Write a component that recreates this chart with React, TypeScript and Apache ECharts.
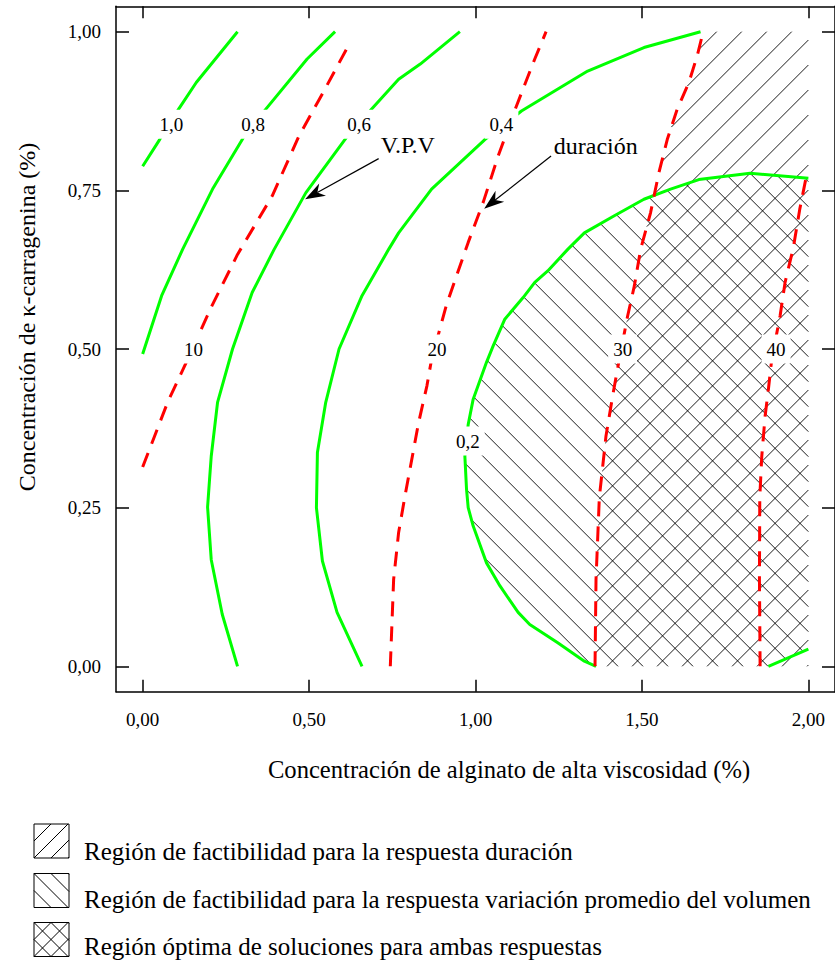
import React, { useEffect, useRef } from 'react';
import * as echarts from 'echarts';

const FONT = '"Liberation Serif", "Times New Roman", Times, serif';

// ---------- axes ----------
const xMin = -0.08, xMax = 2.08, yMin = -0.04, yMax = 1.04;
const xTickValues = [0, 0.5, 1, 1.5, 2];
const xTickLabels = ['0,00', '0,50', '1,00', '1,50', '2,00'];
const yTickValues = [0, 0.25, 0.5, 0.75, 1];
const yTickLabels = ['0,00', '0,25', '0,50', '0,75', '1,00'];
const xAxisTitle = 'Concentración de alginato de alta viscosidad (%)';
const yAxisTitle = 'Concentración de κ-carragenina (%)';

// ---------- V.P.V contours (green, solid) ----------
const vpv10 = [[0.000, 0.788], [0.051, 0.830], [0.108, 0.878], [0.161, 0.920], [0.285, 1.000]];
const vpv08 = [[0.000, 0.492], [0.057, 0.584], [0.120, 0.657], [0.210, 0.752], [0.306, 0.836], [0.370, 0.878], [0.494, 0.957], [0.578, 1.000]];
const vpv06 = [[0.285, 0.000], [0.239, 0.082], [0.206, 0.168], [0.195, 0.251], [0.201, 0.295], [0.206, 0.331], [0.225, 0.416], [0.270, 0.500], [0.329, 0.589], [0.395, 0.657], [0.490, 0.746], [0.613, 0.834], [0.688, 0.878], [0.769, 0.925], [0.834, 0.949], [0.953, 1.000]];
const vpv04 = [[0.659, 0.000], [0.584, 0.085], [0.540, 0.166], [0.522, 0.250], [0.525, 0.337], [0.550, 0.416], [0.590, 0.500], [0.659, 0.584], [0.739, 0.657], [0.769, 0.683], [0.868, 0.752], [1.028, 0.830], [1.138, 0.875], [1.337, 0.938], [1.506, 0.975], [1.676, 1.000]];
const vpv02 = [[1.362, 0.000], [1.327, 0.008], [1.247, 0.037], [1.163, 0.066], [1.128, 0.085], [1.073, 0.127], [1.033, 0.163], [0.993, 0.221], [0.978, 0.250], [0.973, 0.279], [0.968, 0.331], [0.978, 0.381], [0.993, 0.421], [1.033, 0.479], [1.053, 0.505], [1.088, 0.547], [1.143, 0.581], [1.178, 0.605], [1.217, 0.623], [1.277, 0.657], [1.327, 0.683], [1.417, 0.710], [1.506, 0.736], [1.586, 0.752], [1.671, 0.767], [1.825, 0.777], [2.000, 0.769]];
const vpv02b = [[1.880, 0.000], [2.000, 0.027]];

// ---------- duración contours (red, dashed) ----------
const dur10 = [[0.000, 0.314], [0.075, 0.416], [0.131, 0.479], [0.206, 0.566], [0.285, 0.649], [0.389, 0.741], [0.470, 0.836], [0.545, 0.907], [0.619, 0.979]];
const dur20 = [[0.744, 0.000], [0.754, 0.137], [0.769, 0.211], [0.789, 0.271], [0.829, 0.384], [0.854, 0.442], [0.868, 0.484], [0.913, 0.570], [0.978, 0.668], [1.023, 0.731], [1.068, 0.804], [1.123, 0.883], [1.178, 0.957], [1.212, 1.000]];
const dur30 = [[1.359, 0.000], [1.362, 0.137], [1.372, 0.266], [1.392, 0.363], [1.412, 0.426], [1.432, 0.484], [1.457, 0.552], [1.477, 0.599], [1.496, 0.657], [1.526, 0.715], [1.551, 0.778], [1.576, 0.830], [1.606, 0.878], [1.641, 0.920], [1.666, 0.962], [1.684, 1.000]];
const dur40 = [[1.855, 0.000], [1.853, 0.137], [1.854, 0.266], [1.860, 0.331], [1.870, 0.394], [1.880, 0.437], [1.890, 0.484], [1.915, 0.552], [1.930, 0.605], [1.955, 0.660], [1.974, 0.720], [1.995, 0.775]];

// ---------- feasible regions ----------
const durRegion = [...dur30, [2.0, 1.0], [2.0, 0.0]];
const vpvRegion = [...vpv02, [2.0, 0.027], [1.880, 0.0]];

// ---------- contour labels ----------
const contourLabelTexts = ['1,0', '0,8', '0,6', '0,4', '0,2', '10', '20', '30', '40'];
const contourLabelPos = [[0.086, 0.854], [0.332, 0.854], [0.650, 0.854], [1.078, 0.854], [0.977, 0.355], [0.153, 0.500], [0.884, 0.500], [1.442, 0.500], [1.903, 0.500]];

// ---------- annotations ----------
const annotationTexts = ['V.P.V', 'duración'];
const annotationTextPos = [[0.715, 0.821], [1.235, 0.820]];
const annotationArrowFrom = [[0.709, 0.800], [1.227, 0.804]];
const annotationArrowTo = [[0.488, 0.736], [1.026, 0.721]];

// ---------- legend ----------
const legendLabels = [
  'Región de factibilidad para la respuesta duración',
  'Región de factibilidad para la respuesta variación promedio del volumen',
  'Región óptima de soluciones para ambas respuestas',
];

// hatch segments of lines x + s*y = c clipped to polygon (pixel space)
function hatchSegments(pts: number[][], s: number, spacing: number, phase: number) {
  const f = (p: number[]) => p[0] + s * p[1];
  let lo = Infinity, hi = -Infinity;
  pts.forEach((p) => { const v = f(p); lo = Math.min(lo, v); hi = Math.max(hi, v); });
  const segs: number[][] = [];
  const k0 = Math.ceil((lo - phase) / spacing);
  for (let c = phase + k0 * spacing; c <= hi; c += spacing) {
    const xs: number[][] = [];
    for (let i = 0; i < pts.length; i++) {
      const a = pts[i], b = pts[(i + 1) % pts.length];
      const fa = f(a) - c, fb = f(b) - c;
      if ((fa > 0) !== (fb > 0)) {
        const t = fa / (fa - fb);
        xs.push([a[0] + t * (b[0] - a[0]), a[1] + t * (b[1] - a[1])]);
      }
    }
    xs.sort((p, q) => p[0] - q[0]);
    for (let j = 0; j + 1 < xs.length; j += 2) segs.push([xs[j][0], xs[j][1], xs[j + 1][0], xs[j + 1][1]]);
  }
  return segs;
}

function hatchSeries(region: number[][], s: number, phase: number) {
  return {
    type: 'custom',
    coordinateSystem: 'cartesian2d',
    silent: true,
    z: 1,
    data: [[0, 0]],
    renderItem: (params: any, api: any) => {
      const pts = region.map((p) => api.coord(p));
      const segs = hatchSegments(pts, s, 25, phase);
      return {
        type: 'group',
        children: segs.map((g) => ({
          type: 'line',
          shape: { x1: g[0], y1: g[1], x2: g[2], y2: g[3] },
          style: { stroke: '#000', lineWidth: 0.9 },
        })),
      };
    },
  };
}

const fmt = (vals: number[], labs: string[]) => (v: number) => {
  const i = vals.findIndex((t) => Math.abs(t - v) < 1e-9);
  return i >= 0 ? labs[i] : '';
};

export default function App() {
  const ref = useRef<HTMLDivElement>(null);
  useEffect(() => {
    if (!ref.current) return;
    const chart = echarts.init(ref.current, null, { renderer: 'svg' });

    const axisLine = { show: true, onZero: false, lineStyle: { color: '#000', width: 1.5 } };
    const xTick = { show: true, inside: true, length: 12, customValues: xTickValues, lineStyle: { color: '#000', width: 1.5 } };
    const yTick = { show: true, inside: true, length: 13, customValues: yTickValues, lineStyle: { color: '#000', width: 1.5 } };

    const green = (data: number[][]) => ({
      type: 'line', data, showSymbol: false, symbol: 'none', silent: true, z: 3,
      lineStyle: { color: '#00ff00', width: 3 },
    });
    const red = (data: number[][]) => ({
      type: 'line', data, showSymbol: false, symbol: 'none', silent: true, z: 3,
      lineStyle: { color: '#ff0000', width: 3, type: [15, 10] },
    });

    // legend graphics
    const legendEls: any[] = [];
    const boxX = 34, boxW = 35, boxH = 34;
    const boxTops = [824, 873.5, 922.5];
    const textYs = [851, 899, 946];
    const kinds = [[1], [-1], [1, -1]];
    boxTops.forEach((top, i) => {
      const pts = [[boxX, top], [boxX + boxW, top], [boxX + boxW, top + boxH], [boxX, top + boxH]];
      kinds[i].forEach((s) => {
        const phase = s === 1 ? (boxX + top + boxH) % 17 : (boxX - top) % 17;
        hatchSegments(pts, s, 17, phase).forEach((g) => {
          legendEls.push({ type: 'line', shape: { x1: g[0], y1: g[1], x2: g[2], y2: g[3] }, style: { stroke: '#000', lineWidth: 1 } });
        });
      });
      legendEls.push({ type: 'rect', shape: { x: boxX, y: top, width: boxW, height: boxH }, style: { fill: 'none', stroke: '#000', lineWidth: 1 } });
      legendEls.push({
        type: 'text', x: 84, y: textYs[i],
        style: { text: legendLabels[i], font: `25px ${FONT}`, fill: '#000', align: 'left', verticalAlign: 'middle', textAlign: 'left', textVerticalAlign: 'middle' },
      });
    });

    const option: any = {
      animation: false,
      backgroundColor: '#fff',
      grid: { left: 116.04, top: 6.3, width: 722.5, height: 685.4, containLabel: false },
      xAxis: [
        {
          type: 'value', min: xMin, max: xMax, position: 'bottom',
          axisLine, axisTick: xTick, splitLine: { show: false },
          axisLabel: { show: true, customValues: xTickValues, formatter: fmt(xTickValues, xTickLabels), fontFamily: FONT, fontSize: 19, color: '#000', margin: 18 },
        },
        {
          type: 'value', min: xMin, max: xMax, position: 'top',
          axisLine, axisTick: xTick, splitLine: { show: false }, axisLabel: { show: false },
        },
      ],
      yAxis: [
        {
          type: 'value', min: yMin, max: yMax, position: 'left',
          axisLine, axisTick: yTick, splitLine: { show: false },
          axisLabel: { show: true, customValues: yTickValues, formatter: fmt(yTickValues, yTickLabels), fontFamily: FONT, fontSize: 19, color: '#000', margin: 15 },
        },
        {
          type: 'value', min: yMin, max: yMax, position: 'right',
          axisLine, axisTick: yTick, splitLine: { show: false }, axisLabel: { show: false },
        },
      ],
      graphic: [
        {
          type: 'text', x: 509, y: 769.5,
          style: { text: xAxisTitle, font: `24.6px ${FONT}`, fill: '#000', align: 'center', verticalAlign: 'middle', textAlign: 'center', textVerticalAlign: 'middle' },
        },
        {
          type: 'text', x: 27, y: 317, rotation: Math.PI / 2,
          style: { text: yAxisTitle, font: `24px ${FONT}`, fill: '#000', align: 'center', verticalAlign: 'middle', textAlign: 'center', textVerticalAlign: 'middle' },
        },
        ...legendEls,
      ],
      series: [
        hatchSeries(durRegion, 1, 23.4),
        hatchSeries(vpvRegion, -1, 1.7),
        green(vpv10), green(vpv08), green(vpv06), green(vpv04), green(vpv02), green(vpv02b),
        red(dur10), red(dur20), red(dur30), red(dur40),
        {
          type: 'custom', coordinateSystem: 'cartesian2d', silent: true, z: 10,
          data: contourLabelPos,
          renderItem: (params: any, api: any) => {
            const p = api.coord([api.value(0), api.value(1)]);
            return {
              type: 'text', x: p[0], y: p[1],
              style: {
                text: contourLabelTexts[params.dataIndex], font: `19px ${FONT}`, fill: '#000',
                align: 'center', verticalAlign: 'middle', backgroundColor: '#fff', padding: [5, 5],
              },
            };
          },
        },
        {
          type: 'custom', coordinateSystem: 'cartesian2d', silent: true, z: 10,
          data: annotationTextPos,
          renderItem: (params: any, api: any) => {
            const i = params.dataIndex;
            const t = api.coord(annotationTextPos[i]);
            const a = api.coord(annotationArrowFrom[i]);
            const b = api.coord(annotationArrowTo[i]);
            const dx = b[0] - a[0], dy = b[1] - a[1];
            const len = Math.hypot(dx, dy);
            const ux = dx / len, uy = dy / len, nx = -uy, ny = ux;
            const L = 20, W = 7, N = 6;
            const head = [
              [b[0], b[1]],
              [b[0] - L * ux + W * nx, b[1] - L * uy + W * ny],
              [b[0] - (L - N) * ux, b[1] - (L - N) * uy],
              [b[0] - L * ux - W * nx, b[1] - L * uy - W * ny],
            ];
            return {
              type: 'group',
              children: [
                { type: 'line', shape: { x1: a[0], y1: a[1], x2: b[0] - (L - N) * ux, y2: b[1] - (L - N) * uy }, style: { stroke: '#000', lineWidth: 1.2 } },
                { type: 'polygon', shape: { points: head }, style: { fill: '#000' } },
                { type: 'text', x: t[0], y: t[1], style: { text: annotationTexts[i], font: `24px ${FONT}`, fill: '#000', align: 'left', verticalAlign: 'middle' } },
              ],
            };
          },
        },
      ],
    };
    chart.setOption(option);
    return () => chart.dispose();
  }, []);
  return (
    <div
      ref={ref}
      style={{ position: 'absolute', left: 0, top: 0, width: 835, height: 960, overflow: 'hidden', background: '#fff' }}
    />
  );
}
